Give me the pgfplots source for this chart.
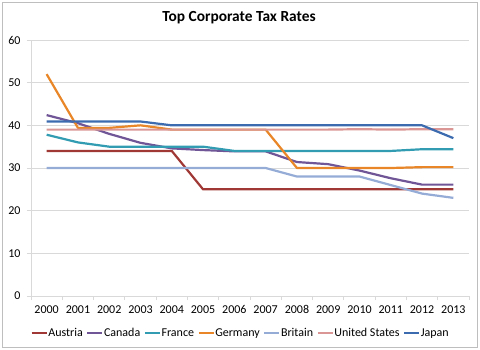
\documentclass[border=0pt]{standalone}
\usepackage{pgfplots}
\pgfplotsset{compat=1.18}
\usepackage{fontspec}
\setmainfont{Carlito}
\definecolor{cAus}{RGB}{160,56,54}
\definecolor{cCan}{RGB}{112,86,150}
\definecolor{cFra}{RGB}{49,156,178}
\definecolor{cGer}{RGB}{232,134,40}
\definecolor{cBri}{RGB}{149,172,215}
\definecolor{cUSA}{RGB}{217,150,148}
\definecolor{cJap}{RGB}{60,108,175}
\definecolor{gridc}{RGB}{217,217,217}
\definecolor{framec}{RGB}{190,190,190}
\begin{document}
\begin{tikzpicture}
\path[use as bounding box] (0,0) rectangle (480bp,350bp);
\draw[framec, line width=0.8bp] (2bp,3bp) rectangle (477bp,348bp);
\node[font=\fontsize{15.4bp}{17bp}\selectfont\bfseries] at (239bp,332bp) {Top Corporate Tax Rates};
\begin{axis}[
  scale only axis,
  width=438bp, height=256bp,
  at={(31bp,54bp)}, anchor=south west,
  xmin=-0.5, xmax=13.5, ymin=0, ymax=60,
  ytick={0,10,...,60},
  xtick={0,...,13},
  xticklabels={2000,2001,2002,2003,2004,2005,2006,2007,2008,2009,2010,2011,2012,2013},
  minor xtick={-0.5,0.5,...,13.5},
  major x tick style={draw=none},
  minor x tick style={draw=gridc, line width=0.8bp},
  minor tick length=4bp,
  y tick style={draw=gridc, line width=0.8bp},
  major tick length=4bp,
  tick align=outside,
  ymajorgrids,
  major grid style={gridc, line width=0.8bp},
  axis x line*=bottom, axis y line*=left,
  axis line style={gridc, line width=0.8bp},
  tick label style={font=\fontsize{12bp}{14bp}\selectfont, black},
  /pgf/number format/assume math mode=true,
  yticklabel style={xshift=-3bp},
  xticklabel style={yshift=-2bp},
  legend columns=7,
  legend style={at={(axis description cs:0.477,-0.1445)}, anchor=center, draw=none, fill=none,
    font=\fontsize{12bp}{14bp}\selectfont,
    /tikz/every even column/.append style={column sep=3bp},
    nodes={inner xsep=0.5bp, inner ysep=1bp}},
  legend image code/.code={\draw[#1] (0bp,0bp) -- (15bp,0bp);},
  every axis plot/.append style={line width=2.2bp, no markers, line join=round},
]
\addplot[cAus] coordinates {(0,34)(1,34)(2,34)(3,34)(4,34)(5,25)(6,25)(7,25)(8,25)(9,25)(10,25)(11,25)(12,25)(13,25)};
\addlegendentry{Austria}
\addplot[cCan] coordinates {(0,42.4)(1,40.5)(2,38.0)(3,35.9)(4,34.6)(5,34.2)(6,33.9)(7,33.9)(8,31.4)(9,30.9)(10,29.4)(11,27.6)(12,26.1)(13,26.1)};
\addlegendentry{Canada}
\addplot[cFra] coordinates {(0,37.8)(1,36.0)(2,35.0)(3,35.0)(4,35.0)(5,35.0)(6,34.0)(7,34.0)(8,34.0)(9,34.0)(10,34.0)(11,34.0)(12,34.4)(13,34.4)};
\addlegendentry{France}
\addplot[cGer] coordinates {(0,52)(1,39.4)(2,39.4)(3,40.0)(4,39.0)(5,39.0)(6,39.0)(7,39.0)(8,30.0)(9,30.0)(10,30.0)(11,30.0)(12,30.2)(13,30.2)};
\addlegendentry{Germany}
\addplot[cBri] coordinates {(0,30)(1,30)(2,30)(3,30)(4,30)(5,30)(6,30)(7,30)(8,28)(9,28)(10,28)(11,26)(12,24)(13,23)};
\addlegendentry{Britain}
\addplot[cUSA] coordinates {(0,39.0)(1,39.0)(2,39.0)(3,39.0)(4,39.0)(5,39.0)(6,39.0)(7,39.0)(8,39.0)(9,39.0)(10,39.1)(11,39.0)(12,39.1)(13,39.1)};
\addlegendentry{United States}
\addplot[cJap] coordinates {(0,40.9)(1,40.9)(2,40.9)(3,40.9)(4,40.0)(5,40.0)(6,40.0)(7,40.0)(8,40.0)(9,40.0)(10,40.0)(11,40.0)(12,40.0)(13,37.0)};
\addlegendentry{Japan}
\end{axis}
\end{tikzpicture}
\end{document}
